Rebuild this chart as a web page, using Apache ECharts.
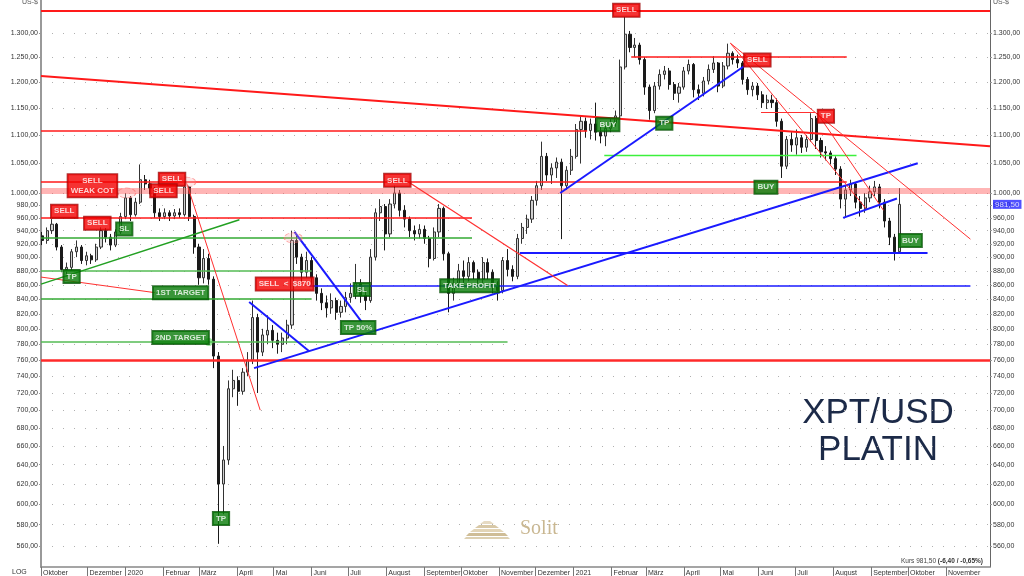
<!DOCTYPE html>
<html><head><meta charset="utf-8">
<script src="https://cdn.jsdelivr.net/npm/echarts@6/dist/echarts.min.js"></script>
<style>html,body{margin:0;padding:0;background:#fff}#c{width:1024px;height:576px}</style>
</head><body><div id="c"></div>
<script>
// ---------- DATA ----------
const candleStart = '2019-10-25';
const candleStepDays = 4;
// [open, close, low, high]
const candles = [
[932,925,918,938],[925,940,920,945],[940,950,935,958],[950,915,910,952],[915,882,878,918],
[882,885,872,892],[885,908,880,912],[908,915,900,925],[915,895,890,918],[895,902,888,908],
[902,896,890,905],[896,915,893,920],[915,940,912,945],[940,930,922,944],[930,918,910,935],
[918,938,915,942],[938,962,935,968],[962,992,958,1000],[992,965,955,995],[965,985,962,992],
[985,1022,982,1048],[1022,1015,1005,1030],[1015,1008,998,1022],[1008,968,960,1010],[968,962,955,975],
[962,968,958,975],[968,963,955,972],[963,968,958,974],[968,965,960,975],[965,1010,962,1018],
[1010,962,955,1012],[962,915,905,965],[915,870,860,920],[870,898,862,912],[898,868,860,905],
[868,765,750,872],[765,620,562,770],[620,645,590,660],[645,725,640,735],[725,735,715,748],
[735,722,705,740],[722,745,718,750],[745,760,740,770],[760,815,755,838],[815,770,720,820],
[770,792,765,800],[792,798,780,818],[798,785,775,805],[785,780,768,795],[780,788,770,795],
[788,805,780,812],[805,925,800,940],[925,900,890,935],[900,878,865,905],[878,895,870,908],
[895,870,860,900],[870,848,838,875],[848,835,825,855],[835,828,815,845],[828,838,820,848],
[838,822,812,842],[822,830,815,838],[830,842,822,850],[842,848,835,862],[848,862,840,890],
[862,845,835,868],[845,838,825,852],[838,900,835,912],[900,968,895,975],[968,978,955,990],
[978,935,910,982],[935,982,930,990],[982,1000,975,1012],[1000,972,962,1005],[972,958,945,980],
[958,940,930,962],[940,935,925,948],[935,942,928,950],[942,928,920,948],[928,898,885,932],
[898,938,895,945],[938,975,930,982],[975,905,895,978],[905,848,822,908],[848,862,838,870],
[862,880,855,890],[880,872,862,895],[872,892,865,900],[892,878,868,895],[878,868,858,882],
[868,892,862,900],[892,878,868,898],[878,858,848,882],[858,852,838,865],[852,895,848,900],
[895,882,872,912],[882,872,865,888],[872,928,868,935],[928,945,920,952],[945,958,935,965],
[958,988,952,995],[988,1012,980,1020],[1012,1062,1005,1088],[1062,1030,1020,1068],[1030,1042,1015,1050],
[1042,1052,1025,1060],[1052,1012,927,1058],[1012,1038,1005,1045],[1038,1062,1030,1075],[1062,1110,1058,1120],
[1110,1125,1050,1135],[1125,1108,1095,1132],[1108,1120,1092,1130],[1120,1105,1090,1160],[1105,1098,1085,1125],
[1098,1112,1080,1118],[1112,1122,1105,1130],[1122,1135,1115,1145],[1135,1230,1130,1245],[1230,1298,1225,1335],
[1298,1270,1260,1305],[1270,1275,1250,1290],[1275,1245,1235,1280],[1245,1190,1175,1250],[1190,1145,1128,1195],
[1145,1192,1140,1200],[1192,1215,1185,1225],[1215,1222,1205,1232],[1222,1195,1185,1228],[1195,1178,1165,1200],
[1178,1190,1160,1198],[1190,1222,1185,1230],[1222,1235,1215,1245],[1235,1185,1170,1238],[1185,1178,1165,1195],
[1178,1202,1172,1210],[1202,1225,1195,1235],[1225,1238,1218,1252],[1238,1192,1180,1240],[1192,1232,1188,1240],
[1232,1258,1225,1278],[1258,1245,1235,1262],[1245,1238,1228,1255],[1238,1205,1195,1242],[1205,1185,1175,1210],
[1185,1192,1172,1200],[1192,1175,1165,1198],[1175,1160,1150,1182],[1160,1165,1148,1175],[1165,1160,1150,1175],
[1160,1125,1115,1168],[1125,1045,1025,1130],[1045,1092,1040,1098],[1092,1082,1070,1105],[1082,1095,1065,1110],
[1095,1078,1068,1100],[1078,1092,1070,1100],[1092,1130,1088,1140],[1130,1090,1075,1135],[1090,1070,1060,1095],
[1070,1068,1055,1080],[1068,1058,1048,1072],[1058,1040,1030,1062],[1040,990,975,1045],[990,1005,962,1012],
[1005,1015,995,1022],[1015,985,975,1018],[985,975,962,995],[975,992,968,1000],[992,1002,985,1012],
[1002,1010,995,1020],[1010,985,975,1015],[985,955,945,990],[955,930,918,960],[930,908,895,935],
[908,981.5,905,1008]
];
const lastPrice = 981.5;
const lastPriceLabel = '981,50';
const yTicks = [560,580,600,620,640,660,680,700,720,740,760,780,800,820,840,860,880,900,920,940,960,980,1000,1050,1100,1150,1200,1250,1300];
const xMin = '2019-10-24', xMax = '2021-12-07';
const monthTicks = ['2019-10-24','2019-12-01','2020-01-01','2020-02-01','2020-03-01','2020-04-01','2020-05-01','2020-06-01','2020-07-01','2020-08-01','2020-09-01','2020-10-01','2020-11-01','2020-12-01','2021-01-01','2021-02-01','2021-03-01','2021-04-01','2021-05-01','2021-06-01','2021-07-01','2021-08-01','2021-09-01','2021-10-01','2021-11-01'];
const deMonths = ['Januar','Februar','März','April','Mai','Juni','Juli','August','September','Oktober','November','Dezember'];

// horizontal levels: [price, from, to, color, width]
const hLines = [
[1349,'2019-10-24','2021-12-07','#ff1a1a',2],
[1108,'2019-10-24','2021-01-12','#ff1a1a',1.5],
[1250,'2021-02-17','2021-08-12','#ff1a1a',1.5],
[1142,'2021-06-03','2021-07-17','#ff3030',1],
[1018,'2019-10-24','2021-08-12','#ff1a1a',1.5],
[1004.5,'2019-10-24','2021-12-07','rgba(255,90,90,0.45)',6],
[960,'2019-10-24','2020-10-10','#ff1a1a',1.5],
[929,'2019-10-24','2020-10-10','#33aa33',1.5],
[880,'2019-10-24','2020-06-01','#55bb55',1.5],
[840,'2019-10-24','2020-06-01','#33aa33',1.5],
[783,'2019-10-24','2020-11-08','#55bb55',1.5],
[760,'2019-10-24','2021-12-07','#ff2a2a',2.5],
[859,'2020-05-30','2021-11-21','#1a1aff',1.5],
[906,'2020-11-18','2021-10-17','#1a1aff',2],
[1064,'2021-01-26','2021-08-20','#3cf03c',1.3]
];
// trend lines: [from, price1, to, price2, color, width]
const trendLines = [
['2019-10-24',1212,'2021-12-07',1080,'#ff1a1a',2],
['2019-10-24',871,'2020-01-25',849,'#ff3030',1],
['2019-10-24',861,'2020-04-03',957,'#22a022',1.5],
['2020-02-20',1016,'2020-04-20',700,'#ff3030',1],
['2020-04-11',836,'2020-05-30',771,'#1a1aff',2],
['2020-04-15',750,'2021-10-09',1050,'#1a1aff',2],
['2020-05-18',938,'2020-07-12',809,'#1a1aff',2],
['2020-12-21',1000,'2021-05-21',1233,'#1a1aff',2],
['2020-08-20',1017,'2020-12-27',859,'#ff3030',1.2],
['2021-05-09',1279,'2021-08-28',974,'#ff3030',1],
['2021-05-09',1279,'2021-11-21',927,'#ff3030',1],
['2021-07-19',1140,'2021-09-11',972,'#ff3030',1],
['2021-08-09',960,'2021-09-22',991,'#1a1aff',2]
];
// signal boxes: [date, price, text, kind]
const signals = [
['2019-11-12',970.4,'SELL','sell'],
['2019-12-05',1012,'SELL\nWEAK COT','sell'],
['2019-12-09',951.5,'SELL','sell'],
['2020-02-08',1023,'SELL','sell'],
['2020-02-01',1003.7,'SELL','sell'],
['2020-05-10',861,'SELL  <  $870','sell'],
['2020-08-10',1021,'SELL','sell'],
['2021-02-13',1350,'SELL','sell'],
['2021-05-31',1244,'SELL','sell'],
['2021-07-26',1134.5,'TP','sell'],
['2019-11-18',872,'TP','buy'],
['2019-12-31',942.6,'SL','buy'],
['2020-02-15',849,'1ST TARGET','buy'],
['2020-02-15',788.6,'2ND TARGET','buy'],
['2020-03-19',585.9,'TP','buy'],
['2020-07-12',853.5,'SL','buy'],
['2020-07-09',801.6,'TP 50%','buy'],
['2020-10-08',858.8,'TAKE PROFIT','buy'],
['2021-01-29',1118.7,'BUY','buy'],
['2021-03-16',1121.3,'TP','buy'],
['2021-06-07',1009.5,'BUY','buy'],
['2021-10-03',924.9,'BUY','buy']
];
const highlights = [['2020-01-02',1000],['2020-02-20',1018],['2020-05-17',929]];
const targetDots = [['2020-03-09',783]];

// ---------- HELPERS ----------
const t = s => +new Date(s + 'T00:00:00');
const DAY = 86400000;
const startTs = t(candleStart);
const candleDates = candles.map((_, i) => startTs + i * candleStepDays * DAY);
const deNum = v => {
  const r = Math.round(v * 100) / 100;
  const s = r.toFixed(2).split('.');
  return s[0].replace(/\B(?=(\d{3})+(?!\d))/g, '.') + ',' + s[1];
};

const mlData = [];
hLines.forEach(([p, a, b, color, w]) => mlData.push([
  {coord: [t(a), p], lineStyle: {color, width: w, type: 'solid', opacity: 1}},
  {coord: [t(b), p]}
]));
trendLines.forEach(([a, p1, b, p2, color, w]) => mlData.push([
  {coord: [t(a), p1], lineStyle: {color, width: w, type: 'solid', opacity: 1}},
  {coord: [t(b), p2]}
]));

const sigData = signals.map(([d, p, txt, kind]) => ({
  value: [t(d), p],
  label: {
    formatter: txt,
    backgroundColor: kind === 'sell' ? '#f20000' : '#077a07',
    borderColor: kind === 'sell' ? '#9a0000' : '#034d03'
  }
}));

const axisLabelY = {fontSize: 7, color: '#333', fontFamily: 'Arial', margin: 3,
  formatter: v => deNum(v), customValues: yTicks};

const chart = echarts.init(document.getElementById('c'), null, {renderer: 'canvas'});
chart.setOption({
  animation: false,
  backgroundColor: '#fff',
  grid: {left: 41, right: 34, top: 0, bottom: 9, containLabel: false, outerBoundsMode: 'none'},
  xAxis: {
    type: 'value', min: t(xMin), max: t(xMax), scale: true,
    axisLine: {show: true, onZero: false, lineStyle: {color: '#888', width: 1.5}},
    axisTick: {show: true, length: 9, lineStyle: {color: '#777'}, customValues: monthTicks.map(t)},
    axisLabel: {fontSize: 7, color: '#333', fontFamily: 'Arial', align: 'left', margin: 3, padding: [0, 0, 0, 2],
      customValues: monthTicks.map(t),
      formatter: v => { const d = new Date(v); return (d.getMonth() === 0 && d.getDate() === 1) ? String(d.getFullYear()) : deMonths[d.getMonth()]; }},
    splitLine: {show: false}
  },
  yAxis: [
    {type: 'log', logBase: 10, min: 541, max: 1373, position: 'left',
      axisLine: {show: true, lineStyle: {color: '#999', width: 2}},
      axisTick: {show: true, length: 2, lineStyle: {color: '#999'}, customValues: yTicks},
      axisLabel: axisLabelY,
      splitLine: {show: true, lineStyle: {color: '#b0b0b0', width: 1, type: [1, 10]}}},
    {type: 'log', logBase: 10, min: 541, max: 1373, position: 'right',
      axisLine: {show: true, lineStyle: {color: '#666', width: 1}},
      axisTick: {show: true, length: 2, lineStyle: {color: '#999'}, customValues: yTicks},
      axisLabel: axisLabelY,
      splitLine: {show: false}}
  ],
  series: [
    {
      type: 'candlestick', name: 'XPT/USD', yAxisIndex: 0,
      data: candles.map((c, i) => [candleDates[i]].concat(c)),
      encode: {x: 0, y: [1, 2, 3, 4]},
      barWidth: 2.6,
      itemStyle: {color: '#d0d0d0', color0: '#1a1a1a', borderColor: '#333', borderColor0: '#1a1a1a', borderWidth: 1},
      z: 3,
      markLine: {silent: true, symbol: ['none', 'none'], animation: false, label: {show: false}, data: mlData, z: 4}
    },
    {
      type: 'scatter', name: 'highlights', yAxisIndex: 0, z: 5, silent: true,
      symbol: 'circle', symbolSize: [18, 10],
      itemStyle: {color: 'rgba(255,170,170,0.35)', borderColor: 'rgba(255,110,110,0.8)', borderType: 'dashed', borderWidth: 1},
      data: highlights.map(([d, p]) => [t(d), p])
    },
    {
      type: 'scatter', name: 'targets', yAxisIndex: 0, z: 5, silent: true,
      symbol: 'circle', symbolSize: 8,
      itemStyle: {color: 'rgba(90,210,90,0.75)'},
      data: targetDots.map(([d, p]) => [t(d), p])
    },
    {
      type: 'scatter', name: 'signals', yAxisIndex: 0, z: 10, silent: true,
      symbol: 'rect', symbolSize: 2, itemStyle: {color: 'rgba(0,0,0,0)'},
      label: {show: true, position: 'inside', color: '#fff', fontSize: 8, fontWeight: 'bold',
        fontFamily: 'Arial', padding: [2, 3, 1, 3], borderWidth: 1, lineHeight: 10, align: 'center', verticalAlign: 'middle'},
      labelLayout: {hideOverlap: false},
      data: sigData
    },
    {
      type: 'scatter', name: 'last', yAxisIndex: 0, z: 10, silent: true, clip: false,
      symbol: 'rect', symbolSize: 2, itemStyle: {color: 'rgba(0,0,0,0)'},
      label: {show: true, position: 'right', distance: 2, formatter: lastPriceLabel, color: '#fff', fontSize: 8,
        fontFamily: 'Arial', backgroundColor: '#2424ff', padding: [1, 2, 0, 2]},
      data: [[t(xMax), lastPrice]]
    }
  ],
  graphic: [
    {type: 'text', left: 22, top: -1, style: {text: 'US-$', fontSize: 7, fill: '#555', fontFamily: 'Arial'}},
    {type: 'text', left: 993, top: -1, style: {text: 'US-$', fontSize: 7, fill: '#555', fontFamily: 'Arial'}},
    {type: 'text', left: 12, top: 569, style: {text: 'LOG', fontSize: 7, fill: '#333', fontFamily: 'Arial'}},
    {type: 'text', right: 41, top: 558, style: {text: '{a|Kurs 981,50 }{b|(-6,40 / -0,65%)}', fontFamily: 'Arial',
      rich: {a: {fontSize: 6.5, fill: '#444', fontFamily: 'Arial'}, b: {fontSize: 6.5, fill: '#333', fontWeight: 'bold', fontFamily: 'Arial'}}}},
    {type: 'text', x: 878, y: 413, style: {text: 'XPT/USD', fontSize: 35, fill: '#1c2a48', fontFamily: 'Arial',
      align: 'center', verticalAlign: 'middle', shadowBlur: 4, shadowColor: 'rgba(0,0,0,0.4)', shadowOffsetX: 1, shadowOffsetY: 2}},
    {type: 'text', x: 878, y: 450, style: {text: 'PLATIN', fontSize: 35, fill: '#1c2a48', fontFamily: 'Arial',
      align: 'center', verticalAlign: 'middle', shadowBlur: 4, shadowColor: 'rgba(0,0,0,0.4)', shadowOffsetX: 1, shadowOffsetY: 2}},
    {type: 'text', x: 520, y: 529, style: {text: 'Solit', fontSize: 20, fill: '#c9b791', fontFamily: 'Liberation Serif',
      verticalAlign: 'middle'}},
    {type: 'polygon', shape: {points: [[484, 521], [490, 521], [494, 524], [480, 524]]}, style: {fill: '#e6dac2'}},
    {type: 'polygon', shape: {points: [[479, 525], [495, 525], [499, 528], [475, 528]]}, style: {fill: '#d8c8a6'}},
    {type: 'polygon', shape: {points: [[474, 529], [500, 529], [504, 532], [470, 532]]}, style: {fill: '#e2d4b6'}},
    {type: 'polygon', shape: {points: [[469, 533], [505, 533], [508, 536], [466, 536]]}, style: {fill: '#cfbd97'}},
    {type: 'polygon', shape: {points: [[466, 537], [508, 537], [510, 539], [464, 539]]}, style: {fill: '#ddd0b2'}}
  ]
});
</script>
</body></html>
